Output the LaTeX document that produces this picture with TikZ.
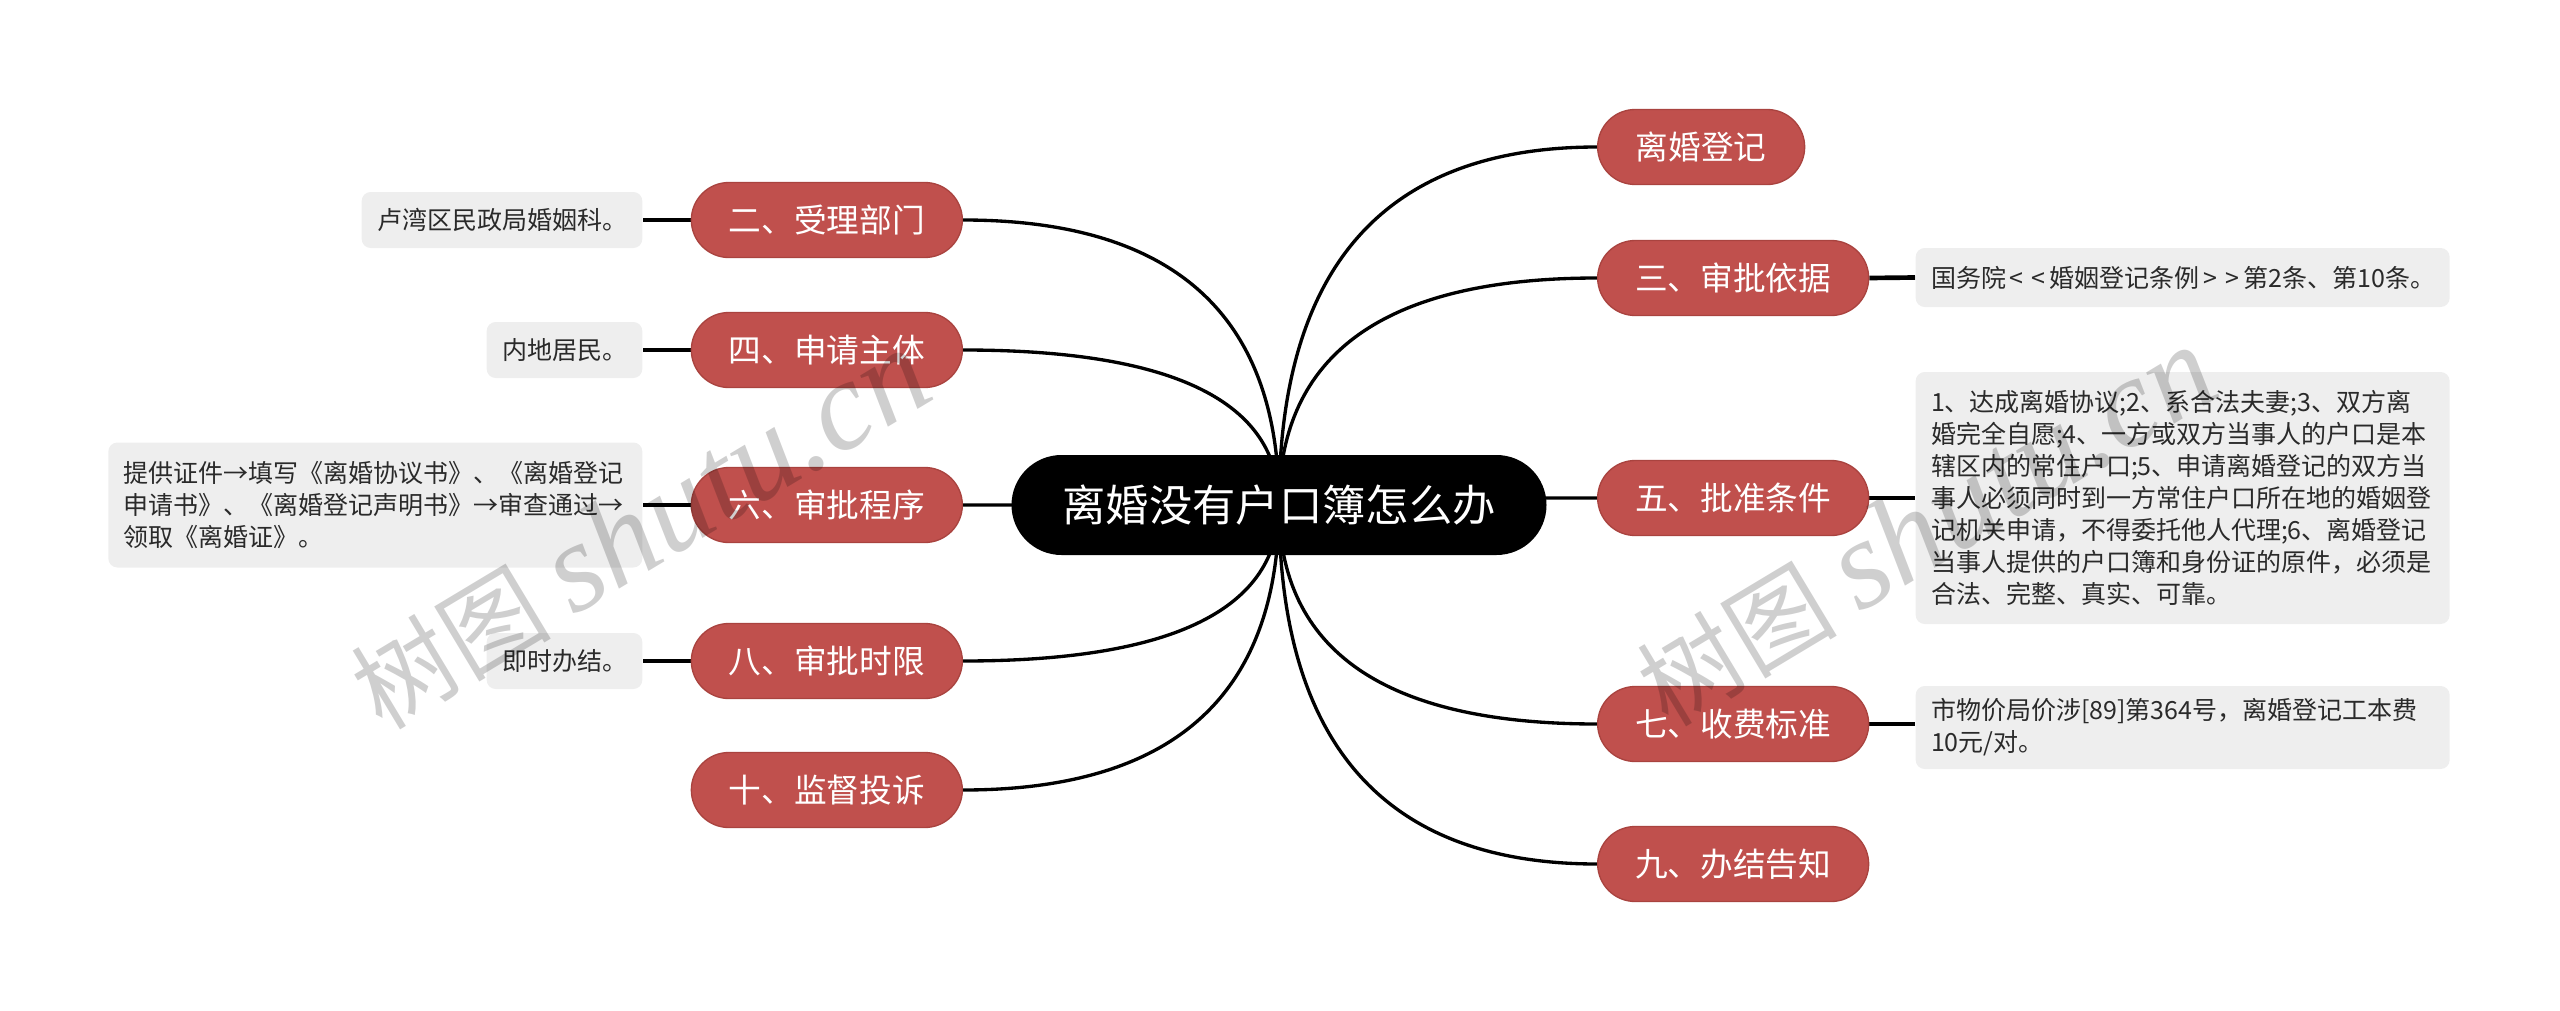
\documentclass[tikz,border=0pt]{standalone}
\usepackage{fontspec}
\setmainfont{Noto Sans CJK SC}
\newfontfamily\wmfont{Liberation Serif}
\usetikzlibrary{backgrounds,calc}
\definecolor{redn}{HTML}{C0504D}
\definecolor{redb}{HTML}{A9433F}
\definecolor{leafbg}{HTML}{EEEEEE}
\definecolor{leaftx}{HTML}{2A2A2A}
\newcommand{\lab}{\kern1.2pt<\kern1.2pt}
\newcommand{\rab}{\kern1.2pt>\kern1.2pt}
\begin{document}
\begin{tikzpicture}[x=0.3pt,y=-0.3pt,
  rootn/.style={fill=black, text=white, rounded corners=15pt, minimum width=160.5pt,
    minimum height=30pt, font=\fontsize{13pt}{15pt}\selectfont, inner sep=0pt},
  topic/.style={fill=redn, draw=redb, line width=0.4pt, text=white, rounded corners=11.25pt,
    minimum height=22.5pt, minimum width=81.3pt, font=\fontsize{9.8pt}{11pt}\selectfont, inner sep=0pt},
  leaf/.style={fill=leafbg, rounded corners=2.7pt, text=leaftx,
    font=\fontsize{7.5pt}{9.6pt}\selectfont, inner xsep=4.6pt, inner ysep=0pt,
    minimum height=16.8pt, align=left},
  wide/.style={text width=151pt},
  link/.style={line width=1pt},
  leafl/.style={line width=1.4pt},
  wm/.style={rotate=31, text=black, text opacity=0.19, font=\fontsize{30pt}{32pt}\selectfont, inner sep=0pt},
]
\useasboundingbox (0,0) rectangle (2560,1011);

% root
\node[rootn] (root) at (1279,505) {离婚没有户口簿怎么办};

% right topics
\node[topic, anchor=west, minimum width=62.1pt] (r1) at (1597,147) {离婚登记};
\node[topic, anchor=west] (r3) at (1597,278) {三、审批依据};
\node[topic, anchor=west] (r5) at (1597,498) {五、批准条件};
\node[topic, anchor=west] (r7) at (1597,724) {七、收费标准};
\node[topic, anchor=west] (r9) at (1597,864) {九、办结告知};

% left topics
\node[topic, anchor=east] (l2) at (963,220) {二、受理部门};
\node[topic, anchor=east] (l4) at (963,350) {四、申请主体};
\node[topic, anchor=east] (l6) at (963,505) {六、审批程序};
\node[topic, anchor=east] (l8) at (963,661) {八、审批时限};
\node[topic, anchor=east] (l10) at (963,790) {十、监督投诉};

% left leaves
\node[leaf, anchor=east] (L2) at (643,220) {卢湾区民政局婚姻科。};
\node[leaf, anchor=east] (L4) at (643,350) {内地居民。};
\node[leaf, wide, anchor=east, minimum height=37.5pt] (L6) at (643,505)
  {提供证件→填写《离婚协议书》、《离婚登记\\申请书》、《离婚登记声明书》→审查通过→\\领取《离婚证》。};
\node[leaf, anchor=east] (L8) at (643,661) {即时办结。};

% right leaves
\node[leaf, wide, anchor=west, minimum height=17.7pt] (R3) at (1915,277.5)
  {国务院\lab\lab 婚姻登记条例\rab\rab 第2条、第10条。};
\node[leaf, wide, anchor=west, minimum height=75.6pt] (R5) at (1915,498)
  {1、达成离婚协议;2、系合法夫妻;3、双方离\\婚完全自愿;4、一方或双方当事人的户口是本\\辖区内的常住户口;5、申请离婚登记的双方当\\事人必须同时到一方常住户口所在地的婚姻登\\记机关申请，不得委托他人代理;6、离婚登记\\当事人提供的户口簿和身份证的原件，必须是\\合法、完整、真实、可靠。};
\node[leaf, wide, anchor=west, minimum height=24.9pt] (R7) at (1915,727.5)
  {市物价局价涉[89]第364号，离婚登记工本费\\10元/对。};

\begin{scope}[on background layer]
  \foreach \n in {r1,r3,r5,r7,r9}
    \draw[link] (root.center)
      .. controls ($(root.center)!0.6667!(root.center |- \n.west)$)
             and ($(\n.west)!0.6667!(root.center |- \n.west)$) .. (\n.west);
  \foreach \n in {l2,l4,l6,l8,l10}
    \draw[link] (root.center)
      .. controls ($(root.center)!0.6667!(root.center |- \n.east)$)
             and ($(\n.east)!0.6667!(root.center |- \n.east)$) .. (\n.east);
  \draw[leafl] (l2.west) -- (L2.east);
  \draw[leafl] (l4.west) -- (L4.east);
  \draw[leafl] (l6.west) -- (L6.east);
  \draw[leafl] (l8.west) -- (L8.east);
  \draw[leafl] (r3.east) -- (R3.west);
  \draw[leafl] (r5.east) -- (R5.west);
  \draw[leafl] (r7.east) -- (r7.east -| R7.west);
\end{scope}

% watermarks
\node[wm] (wm1) at (640,530) {树图 {\wmfont\itshape\fontsize{38pt}{40pt}\selectfont shutu.cn}};
\node[wm] (wm2) at (1926,527) {树图 {\wmfont\itshape\fontsize{38pt}{40pt}\selectfont shutu.cn}};
\end{tikzpicture}
\end{document}
